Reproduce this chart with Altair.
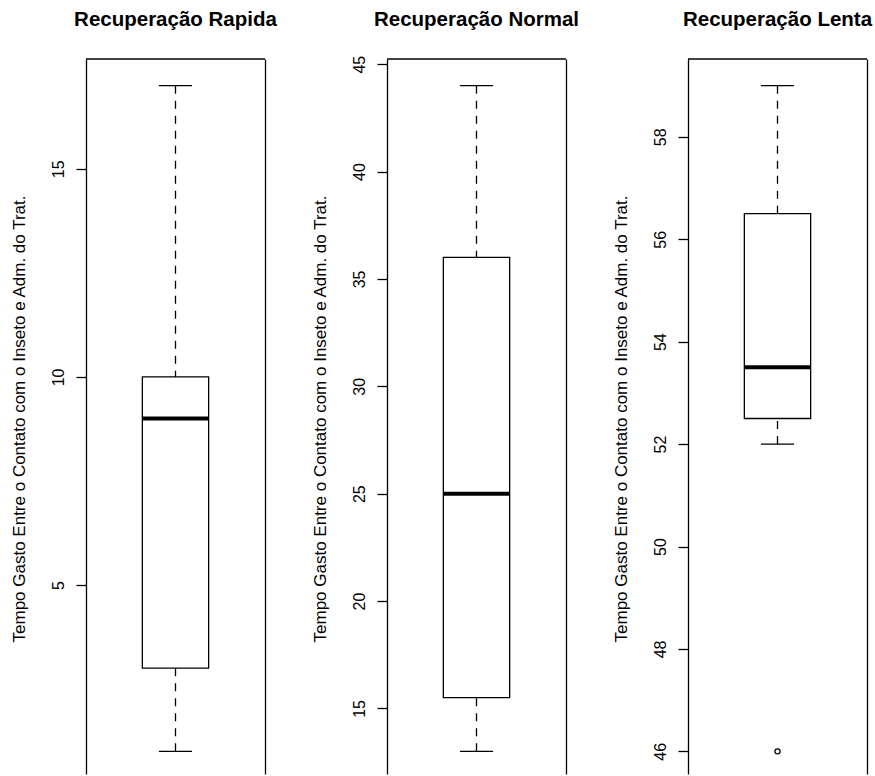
import altair as alt
import pandas as pd

# Summary statistics of each recovery group (boxplot five-number summaries)
grupos = ["Recuperação Rapida", "Recuperação Normal", "Recuperação Lenta"]
bigode_inferior = [1, 13, 52]
quartil_1 = [3, 15.5, 52.5]
mediana = [9, 25, 53.5]
quartil_3 = [10, 36, 56.5]
bigode_superior = [17, 44, 59]
valores_atipicos = [[], [], [46]]
marcas_eixo = [
    [5, 10, 15],
    [15, 20, 25, 30, 35, 40, 45],
    [46, 48, 50, 52, 54, 56, 58],
]
titulo_y = "Tempo Gasto Entre o Contato com o Inseto e Adm. do Trat."

# Styling / layout constants
FONTE = "Liberation Sans"
COR = "black"
LARGURA = 179
ALTURA_REGIAO = 719      # full plotting region height
ALTURA_VISIVEL = 715     # part of the region kept on the page
ESPACO = 122
ESPESSURA = 1.3
CENTRO = 1.0
MEIA_CAIXA = 0.2
MEIA_HASTE = 0.1
X_DOMINIO = [0.46, 1.54]
TITULO_ACIMA = 33        # title baseline distance above the plot frame


def painel(i):
    # y range padded by 4% on each side, as in a base-graphics boxplot
    pontos = [bigode_inferior[i], bigode_superior[i]] + valores_atipicos[i]
    lo, hi = min(pontos), max(pontos)
    amp = hi - lo
    d_lo, d_hi = lo - 0.04 * amp, hi + 0.04 * amp
    d_lo_vis = d_hi - (d_hi - d_lo) * ALTURA_VISIVEL / ALTURA_REGIAO

    escala_y = alt.Scale(domain=[d_lo_vis, d_hi], nice=False, zero=False)
    escala_x = alt.Scale(domain=X_DOMINIO, nice=False, zero=False)

    eixo_esq = alt.Axis(
        orient="left", values=marcas_eixo[i], grid=False,
        domainColor=COR, domainWidth=ESPESSURA,
        tickColor=COR, tickWidth=ESPESSURA, tickSize=10,
        labelPadding=13, labelAngle=270, labelAlign="center",
        labelBaseline="alphabetic", labelFont=FONTE, labelFontSize=16,
        labelColor=COR, labelFlush=False, labelOverlap=False,
        title=titulo_y, titleFont=FONTE, titleFontSize=17,
        titleFontWeight="normal", titleColor=COR, titleAngle=270,
        titleAlign="center", titleBaseline="alphabetic",
        titleX=-62, titleY=ALTURA_REGIAO / 2,
    )
    eixo_dir = alt.Axis(orient="right", domain=True, domainColor=COR,
                        domainWidth=ESPESSURA, ticks=False, labels=False,
                        grid=False, title=None)

    caixa_df = pd.DataFrame({
        "esq": [CENTRO - MEIA_CAIXA], "dir": [CENTRO + MEIA_CAIXA],
        "q1": [quartil_1[i]], "q3": [quartil_3[i]], "med": [mediana[i]],
    })
    haste_df = pd.DataFrame({
        "centro": [CENTRO, CENTRO],
        "fim": [bigode_inferior[i], bigode_superior[i]],
        "borda": [quartil_1[i], quartil_3[i]],
    })
    trava_df = pd.DataFrame({
        "esq": [CENTRO - MEIA_HASTE] * 2, "dir": [CENTRO + MEIA_HASTE] * 2,
        "valor": [bigode_inferior[i], bigode_superior[i]],
    })
    atip_df = pd.DataFrame({
        "centro": [CENTRO] * len(valores_atipicos[i]),
        "valor": valores_atipicos[i],
    })
    titulo_df = pd.DataFrame({"centro": [CENTRO], "titulo": [grupos[i]]})

    # top edge of the plot frame, along the upper limit of the y scale
    topo = alt.Chart(titulo_df).mark_rule(
        color=COR, strokeWidth=ESPESSURA
    ).encode(
        x=alt.datum(X_DOMINIO[0], scale=escala_x, axis=None),
        x2=alt.datum(X_DOMINIO[1]),
        y=alt.datum(d_hi, scale=escala_y, axis=None),
    )
    hastes = alt.Chart(haste_df).mark_rule(
        color=COR, strokeWidth=ESPESSURA, strokeDash=[8, 7]
    ).encode(
        x=alt.X("centro:Q", scale=escala_x, axis=None),
        y=alt.Y("fim:Q", scale=escala_y, axis=None),
        y2="borda:Q",
    )
    caixa = alt.Chart(caixa_df).mark_rect(
        fill="white", stroke=COR, strokeWidth=ESPESSURA
    ).encode(
        x=alt.X("esq:Q", scale=escala_x, axis=None),
        x2="dir:Q",
        y=alt.Y("q1:Q", scale=escala_y, axis=eixo_esq),
        y2="q3:Q",
    )
    med = alt.Chart(caixa_df).mark_rule(color=COR, strokeWidth=4).encode(
        x=alt.X("esq:Q", scale=escala_x, axis=None),
        x2="dir:Q",
        y=alt.Y("med:Q", scale=escala_y, axis=None),
    )
    travas = alt.Chart(trava_df).mark_rule(
        color=COR, strokeWidth=ESPESSURA
    ).encode(
        x=alt.X("esq:Q", scale=escala_x, axis=None),
        x2="dir:Q",
        y=alt.Y("valor:Q", scale=escala_y, axis=eixo_dir),
    )
    titulo = alt.Chart(titulo_df).mark_text(
        font=FONTE, fontSize=20.5, fontWeight="bold", color=COR,
        align="center", baseline="alphabetic",
    ).encode(
        x=alt.X("centro:Q", scale=escala_x, axis=None),
        y=alt.value(-TITULO_ACIMA),
        text="titulo:N",
    )
    camadas = [topo, hastes, caixa, med, travas, titulo]
    if len(atip_df):
        camadas.append(
            alt.Chart(atip_df).mark_point(
                shape="circle", filled=False, color=COR,
                strokeWidth=ESPESSURA, size=26, opacity=1
            ).encode(
                x=alt.X("centro:Q", scale=escala_x, axis=None),
                y=alt.Y("valor:Q", scale=escala_y, axis=None),
            )
        )

    return alt.layer(*camadas).resolve_axis(y="independent").properties(
        width=LARGURA,
        height=ALTURA_VISIVEL,
    )


chart = alt.hconcat(
    *[painel(i) for i in range(len(grupos))],
    spacing=ESPACO, bounds="flush",
).properties(
    autosize=alt.AutoSizeParams(type="none"),
    padding={"left": 86, "top": 59, "right": 875 - 86, "bottom": ALTURA_VISIVEL},
    background="white",
).configure_view(stroke=None)

chart.save("out.html", embed_options={"renderer": "svg", "actions": False})
